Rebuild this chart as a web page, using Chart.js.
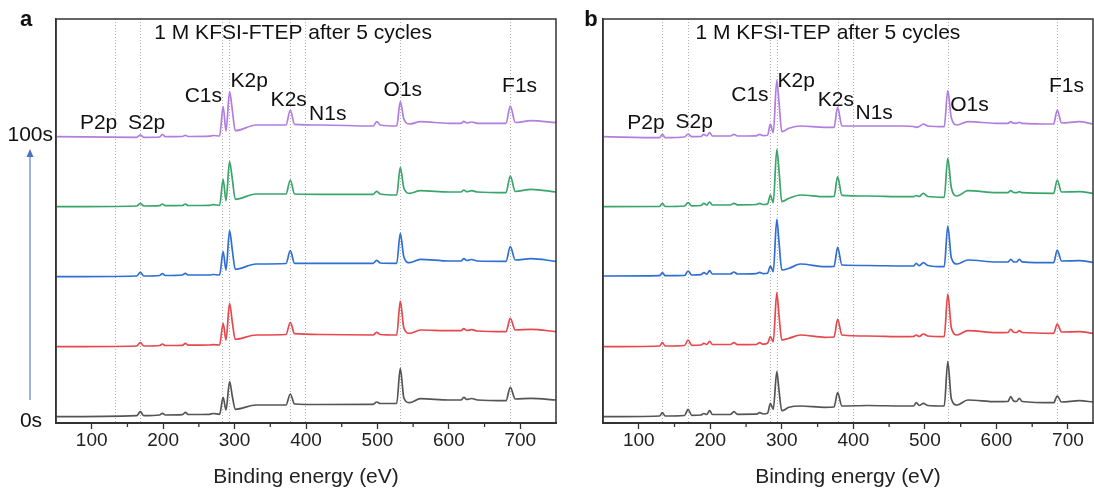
<!DOCTYPE html>
<html>
<head>
<meta charset="utf-8">
<script src="https://cdn.jsdelivr.net/npm/chart.js@4.4.1/dist/chart.umd.min.js"></script>
<style>
body{margin:0;background:#fff;width:1094px;height:492px;overflow:hidden;position:relative}
canvas{position:absolute;top:0}
#panelA{left:0}
#panelB{left:546px}
</style>
</head>
<body>
<canvas id="panelA" width="560" height="492"></canvas>
<canvas id="panelB" width="548" height="492"></canvas>
<script>
// ---- data (binding energy in eV, intensity in a.u. incl. stack offset) ----

// panel a : 1 M KFSI-FTEP
const energyA = [50,163,168,173,195,199,203,227,231,235,265,270,279,284,288,293,297,301,330,372,378,384,420,494,499,504,527,532,537,545,560,600,617,621,625,632,640,680,686,693,715,750]
const grayA = [6.3,7.3,11.3,7.3,8,9.7,8,8.3,10.7,8.5,8.7,9.5,8.7,25.7,13,41.3,26,13.7,18,18,29,19,18.5,18.7,21,19.5,19.7,54.7,25,20.3,24.3,23,23,25.7,23.5,24.5,23,22.3,35.7,24,24.7,23]
const redA = [76.3,77,80.3,77,77.5,79,77.5,77.7,79.7,77.8,78,78.3,78,99.7,83,119.7,100,83.7,88,88.5,100.7,89.3,88.5,88,90.7,88.5,88,122,95,89.7,93,92.3,92.3,94.3,92.5,93.3,92,91.3,104.7,93,93.7,91.3]
const blueA = [146.3,147,150.7,147,147.5,149.3,147.5,148,149.7,148,148,148.5,148,171.3,153,192.3,172,153.7,159,159.5,172.3,159.7,159.7,159.7,162.7,160,159.7,189.7,166,160.3,163.7,162,162,164.3,162.5,163.5,162,161.7,176.3,163,164.3,161.7]
const greenA = [216.3,217,219.7,217,217.3,219,217.3,217.5,219,217.5,217.7,218.3,217.7,243.7,222.3,261.3,243,223.7,229,229,243,229,228.7,228.7,231.7,229,228,255.7,235,229.7,232.3,231,231,233,231.3,232.3,231,230.3,247,231.5,233.7,231]
const purpleA = [286.3,285.7,288,285.7,286,288.7,286.3,286.5,287.7,286.5,286.8,287.5,287,316.3,292,331.3,312,292.3,298,298,313,298.7,298,297,301.3,298,297,321.3,304,299,301.3,299.7,299.7,301.7,300,301,299.7,299.7,317,300.5,302.3,300.3]

// panel b : 1 M KFSI-TEP
const energyB = [50,129,133,137,164,169,174,187,191,195,199,203,228,233,238,264,269,274,280,284,288,293,296,300,310,326,360,373,378,384,420,470,484,488,492,498,504,527,532,537,545,560,600,616,620,624,628,632,636,680,685,691,716,735]
const grayB = [6.3,7,10.3,7,7.5,13.7,7.7,8,9.5,8.5,12.3,8.5,8.5,11.3,8.7,8.8,10.3,9,9.7,19.7,13.7,51.3,33,12.3,15.7,17,15.7,16,30.3,17,17.5,17,17,20.3,17.5,19.7,17.5,17,61.3,24,18,23,21.3,21.5,26.3,22,21.5,24.7,21.5,20.3,27,21,22.3,21]
const redB = [76.3,77,80.3,77,77.5,83,77.7,78,79.7,78.5,81.7,78.5,78.5,80.3,78.3,78.5,80.3,78.8,79.7,86.3,81.3,130.3,108,83,84.7,88,85.7,86,103.7,88,87,86.3,86.5,88,86.5,89,87,86.3,129,95,88,92.3,90.3,90.5,93.7,90.8,90.5,92.3,90.5,89.7,99,91,91.3,89.7]
const blueB = [147,147.3,150.3,147.3,147.5,152,148,148.3,150.3,148.8,152.3,149,149,151,149,149.3,150.7,149.3,149.7,157,151.3,203.7,181.3,153,154.7,159,156.3,156.5,175.7,158,157.5,157,157,159.7,157.3,160.3,157.5,156.3,197,165,159,163,161,161,163.7,161.2,161,163.7,161.2,160.3,173,162,162.3,160.7]
const greenB = [216.3,216.5,219.7,216.5,217,220.3,217.2,217.5,219.7,218,221,218,218,219.7,218.2,218.5,219.7,218.5,219,228,220.3,273.7,253,221.3,224.7,228,226.3,226.5,246.3,227.7,227,226.3,226.3,227.5,226.5,229.7,226.5,225.7,264.7,235,227,232.3,230.3,230.3,232.3,230.5,230.3,231.3,230.3,229.7,243,231,231.3,229.7]
const purpleB = [286.3,285.3,288.7,285.3,286,289,286.3,286.5,288.7,287,290.3,287,287,288.7,287,287.2,288.7,287.3,287.7,299,290.3,343,321.3,291.3,294.7,297,295.7,295.7,315.7,297,297,297,296.5,295.7,296.5,299,297,296.3,332.3,305,298,301.3,299.7,299.7,301.3,299.8,299.7,300.7,299.7,299,313,300,301.3,299]

// peak names and reference energies (dotted lines)
const peakNames = ["P2p","S2p","C1s","K2p","K2s","N1s","O1s","F1s"]
const peakLinesA = [133,168,283,292,377,398,531,685]
const peakLinesB = [133,169,284,293,378,399,532,685]
const xTicks = [100,200,300,400,500,600,700]
const minorTicks = [150,250,350,450,550,650]

const colors = ["#555555","#e5484d","#2f6fd3","#3aa56b","#b27de0"]
const FONT = '"Liberation Sans", Arial, sans-serif'

// label anchors (energy, intensity) for each panel
const labelPosA = [[109.6,299.7],[176.8,300],[256.3,326.3],[320.5,341.3],[375.8,323],[430.5,309],[535.6,332.3],[699,337]]
const labelPosB = [[110.1,299.7],[177.6,300.3],[255.4,327.3],[320.1,342],[375.6,323],[429.1,309.7],[562.2,318],[698,337]]


// ---- decoration plugin: dotted lines, frame, minor ticks, texts ----

const decor = {
id:"decor",
beforeDatasetsDraw(chart,args,opts){
const {ctx,chartArea:a,scales:{x}} = chart
ctx.save()
ctx.strokeStyle="#b0b0b0"
ctx.lineWidth=1
ctx.setLineDash([1,2])
opts.lines.forEach(e=>{
const px = Math.round(x.getPixelForValue(e))+0.5
ctx.beginPath()
ctx.moveTo(px,a.top)
ctx.lineTo(px,a.bottom)
ctx.stroke()
})
ctx.restore()
},
afterDraw(chart,args,opts){
const {ctx,chartArea:a,scales:{x,y}} = chart
ctx.save()

// frame
ctx.strokeStyle="#333"
ctx.lineWidth=1.5
ctx.strokeRect(a.left,a.top,a.right-a.left,a.bottom-a.top)

// minor ticks
ctx.lineWidth=1.3
minorTicks.forEach(v=>{
const px = x.getPixelForValue(v)
ctx.beginPath()
ctx.moveTo(px,a.bottom)
ctx.lineTo(px,a.bottom+4)
ctx.stroke()
})

// peak labels and title
ctx.fillStyle="#111"
ctx.textAlign="center"
ctx.textBaseline="middle"
ctx.font="21px "+FONT
peakNames.forEach((n,i)=>{
const p = opts.labels[i]
ctx.fillText(n,x.getPixelForValue(p[0]),y.getPixelForValue(p[1]))
})
ctx.fillText(opts.title,x.getPixelForValue(opts.titlePos[0]),y.getPixelForValue(opts.titlePos[1]))

// panel letter
ctx.font="bold 22px "+FONT
ctx.fillText(opts.letter,opts.letterX,20)

// time axis (only left panel)
if(opts.timeAxis){
ctx.font="21px "+FONT
ctx.textAlign="right"
ctx.fillText("100s",53,135)
ctx.textAlign="center"
ctx.fillText("0s",31,421)
ctx.strokeStyle="#5b80c8"
ctx.fillStyle="#4a72c4"
ctx.lineWidth=1.2
ctx.beginPath()
ctx.moveTo(30,400)
ctx.lineTo(30,156)
ctx.stroke()
ctx.beginPath()
ctx.moveTo(30,149)
ctx.lineTo(26.5,157)
ctx.lineTo(33.5,157)
ctx.closePath()
ctx.fill()
}

ctx.restore()
}
}


// ---- build one panel ----

function makePanel(id,energy,series,xMax,yWidth,padRight,extra){

const datasets = series.map((ys,i)=>({
data: energy.map((e,j)=>({x:e,y:ys[j]})),
borderColor: colors[i],
borderWidth: 1.7,
pointRadius: 0,
cubicInterpolationMode: "monotone",
fill: false
}))

return new Chart(document.getElementById(id),{
type:"line",
data:{datasets},
plugins:[decor],
options:{
responsive:false,
animation:false,
layout:{padding:{top:19,right:padRight,left:0,bottom:0}},
plugins:{
legend:{display:false},
tooltip:{enabled:false},
decor:extra
},
scales:{
x:{
type:"linear",
min:50,
max:xMax,
afterBuildTicks(s){ s.ticks = xTicks.map(v=>({value:v})) },
afterFit(s){ s.height = 69 },
ticks:{
color:"#222",
font:{family:FONT,size:19},
padding:0,
maxRotation:0,
autoSkip:false
},
grid:{drawOnChartArea:false,drawTicks:true,tickLength:6,color:"#333",tickWidth:1.3},
border:{display:true,color:"#333",width:2},
title:{
display:true,
text:"Binding energy (eV)",
color:"#222",
font:{family:FONT,size:21},
padding:{top:0,bottom:2}
}
},
y:{
min:0,
max:404,
afterFit(s){ s.width = yWidth },
ticks:{display:false},
grid:{drawOnChartArea:false,drawTicks:false},
border:{display:true,color:"#333",width:1.5}
}
}
}
})

}

makePanel("panelA",energyA,[grayA,redA,blueA,greenA,purpleA],750,56,4,{
lines:peakLinesA,
labels:labelPosA,
title:"1 M KFSI-FTEP after 5 cycles",
titlePos:[382,390],
letter:"a",
letterX:26,
timeAxis:true
})

makePanel("panelB",energyB,[grayB,redB,blueB,greenB,purpleB],735,57,1,{
lines:peakLinesB,
labels:labelPosB,
title:"1 M KFSI-TEP after 5 cycles",
titlePos:[364.4,390],
letter:"b",
letterX:45,
timeAxis:false
})
</script>
</body>
</html>
